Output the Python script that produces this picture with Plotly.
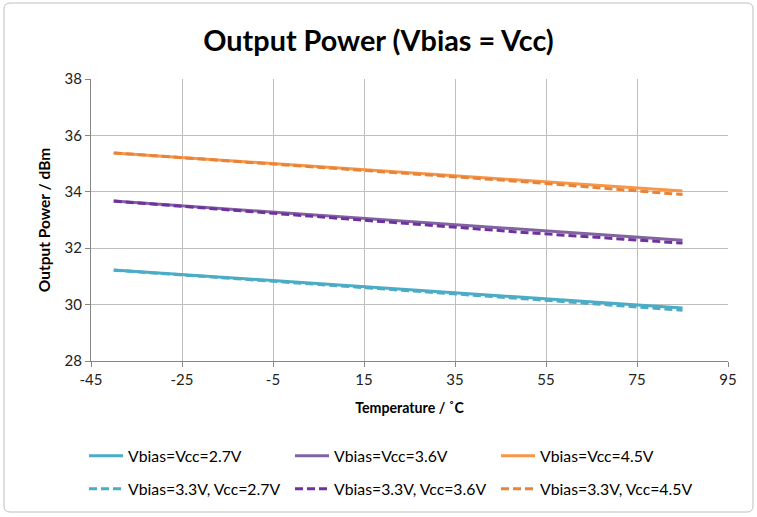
import plotly.graph_objects as go

# Temperature sweep points (°C)
temps = [-40, -20, 0, 25, 50, 85]

# Output power (dBm), Vbias tied to Vcc
p_27 = [31.23, 31.01, 30.80, 30.53, 30.26, 29.88]
p_36 = [33.67, 33.45, 33.23, 32.96, 32.69, 32.28]
p_45 = [35.38, 35.16, 34.94, 34.67, 34.40, 34.03]

# Output power (dBm), Vbias fixed at 3.3 V
q_27 = [31.22, 31.00, 30.77, 30.49, 30.21, 29.80]
q_36 = [33.67, 33.43, 33.18, 32.87, 32.56, 32.18]
q_45 = [35.38, 35.15, 34.92, 34.65, 34.36, 33.90]

names_solid = ["Vbias=Vcc=2.7V", "Vbias=Vcc=3.6V", "Vbias=Vcc=4.5V"]
names_dash = ["Vbias=3.3V, Vcc=2.7V", "Vbias=3.3V, Vcc=3.6V", "Vbias=3.3V, Vcc=4.5V"]
solid_colors = ["#4BACC6", "#8064A2", "#F79646"]
dash_colors = ["#4BACC6", "#7030A0", "#E8843A"]

x_ticks = [-45, -25, -5, 15, 35, 55, 75, 95]
y_ticks = [28, 30, 32, 34, 36, 38]

W, H = 757, 517
ML, MR, MT, MB = 91, 29, 79, 156
PW, PH = W - ML - MR, H - MT - MB


def px_to_paper_x(px):
    return (px - ML) / PW


def px_to_paper_y(py):
    return (H - MB - py) / PH


fig = go.Figure()
for name, ys, col in zip(names_solid, [p_27, p_36, p_45], solid_colors):
    fig.add_trace(go.Scatter(x=temps, y=ys, name=name, mode="lines", legend="legend",
                             line=dict(color=col, width=3)))
for name, ys, col in zip(names_dash, [q_27, q_36, q_45], dash_colors):
    fig.add_trace(go.Scatter(x=temps, y=ys, name=name, mode="lines", legend="legend2",
                             line=dict(color=col, width=3, dash="8px,4px")))

font_family = "Lato, 'Open Sans', sans-serif"

legend_common = dict(orientation="h", xanchor="left", yanchor="middle",
                     entrywidth=157, entrywidthmode="pixels",
                     font=dict(size=15.8, color="black"), itemwidth=34,
                     bgcolor="rgba(0,0,0,0)")

# Rounded chart-area border
x0, y0, x1, y1, r = 4, 3, 753, 512, 6
border_path = (
    f"M {px_to_paper_x(x0 + r)} {px_to_paper_y(y0)} "
    f"L {px_to_paper_x(x1 - r)} {px_to_paper_y(y0)} "
    f"Q {px_to_paper_x(x1)} {px_to_paper_y(y0)} {px_to_paper_x(x1)} {px_to_paper_y(y0 + r)} "
    f"L {px_to_paper_x(x1)} {px_to_paper_y(y1 - r)} "
    f"Q {px_to_paper_x(x1)} {px_to_paper_y(y1)} {px_to_paper_x(x1 - r)} {px_to_paper_y(y1)} "
    f"L {px_to_paper_x(x0 + r)} {px_to_paper_y(y1)} "
    f"Q {px_to_paper_x(x0)} {px_to_paper_y(y1)} {px_to_paper_x(x0)} {px_to_paper_y(y1 - r)} "
    f"L {px_to_paper_x(x0)} {px_to_paper_y(y0 + r)} "
    f"Q {px_to_paper_x(x0)} {px_to_paper_y(y0)} {px_to_paper_x(x0 + r)} {px_to_paper_y(y0)} Z"
)

fig.update_layout(
    width=W, height=H,
    paper_bgcolor="white", plot_bgcolor="white",
    margin=dict(l=ML, r=MR, t=MT, b=MB, autoexpand=False),
    font=dict(family=font_family, size=15, color="#222222"),
    title=dict(text="<b>Output Power (Vbias = Vcc)</b>", x=0.5, xanchor="center",
               y=1 - 41 / H, yanchor="middle",
               font=dict(family=font_family, size=28.8, color="black")),
    xaxis=dict(range=[-45, 95], tickvals=x_ticks, ticktext=[str(v) for v in x_ticks],
               showgrid=True, gridcolor="#BFBFBF", gridwidth=1,
               showline=True, linecolor="#868686", linewidth=1,
               ticks="outside", ticklen=5, tickcolor="#868686",
               tickfont=dict(size=15, color="#222222"),
               zeroline=False, automargin=False,
               title=dict(text="<b>Temperature / ˚C</b>",
                          font=dict(family=font_family, size=14.2, color="black"),
                          standoff=16)),
    yaxis=dict(range=[28, 38], tickvals=y_ticks, ticktext=[str(v) for v in y_ticks],
               showgrid=True, gridcolor="#BFBFBF", gridwidth=1,
               showline=True, linecolor="#868686", linewidth=1,
               ticks="outside", ticklen=5, tickcolor="#868686",
               tickfont=dict(size=15, color="#222222"),
               zeroline=False, automargin=False,
               title=dict(text="<b>Output Power / dBm</b>",
                          font=dict(family=font_family, size=15.5, color="black"),
                          standoff=10)),
    legend=dict(x=px_to_paper_x(84), y=px_to_paper_y(456), **legend_common),
    legend2=dict(x=px_to_paper_x(84), y=px_to_paper_y(489), **legend_common),
    shapes=[dict(type="path", xref="paper", yref="paper", path=border_path,
                 line=dict(color="#BFBFBF", width=1))],
)

fig.write_html("out.html")
